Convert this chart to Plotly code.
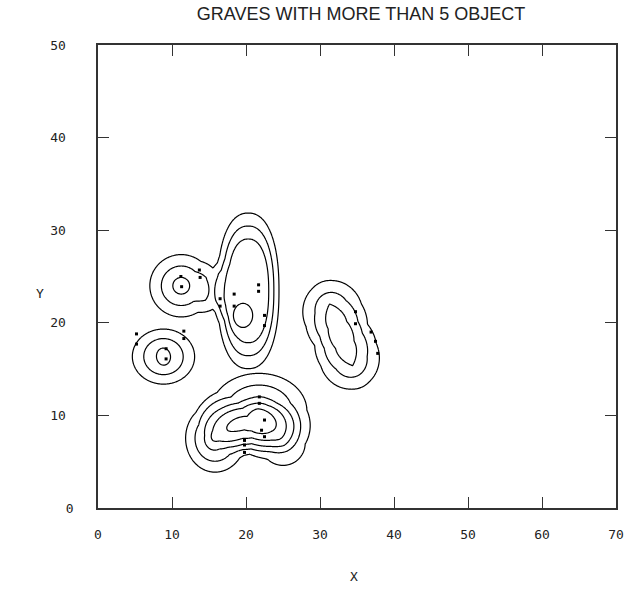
import numpy as np
import plotly.graph_objects as go

# ---- grave locations (small markers) ----
grave_x = [11.2, 11.3, 13.7, 13.8,
           16.5, 16.5, 18.4, 18.4, 21.7, 21.7, 22.5, 22.5,
           5.2, 5.2, 11.6, 11.6, 9.2, 9.2,
           34.8, 34.8, 36.9, 37.5, 37.8,
           21.8, 21.8, 22.5, 22.1, 22.5, 19.8, 19.8, 19.8]
grave_y = [25.0, 23.9, 25.7, 24.9,
           22.6, 21.8, 23.1, 21.8, 24.1, 23.4, 20.8, 19.7,
           18.8, 17.7, 19.1, 18.3, 17.2, 16.1,
           21.2, 19.9, 19.0, 18.0, 16.7,
           12.0, 11.3, 9.5, 8.4, 7.7, 7.3, 6.8, 6.0]

# ---- density hotspots: group, centre, weight, radii, flat top, norm power ----
hot_group = ["AB", "AB", "AB", "AB", "AB",
             "C", "C",
             "D", "D", "D", "D",
             "E", "E", "E", "E", "E"]
hot_x = [11.25, 15.7, 15.8, 20.3, 19.6,
         8.8, 8.9,
         31.3, 32.33, 33.37, 34.4,
         21.75, 21.4, 15.6, 17.4, 25.0]
hot_y = [24.0, 23.6, 22.4, 23.45, 20.8,
         17.0, 15.7,
         22.0, 19.8, 17.6, 15.4,
         10.5, 8.9, 7.5, 7.7, 7.0]
hot_w = [3.73, 0.55, 0.35, 3.5, 1.0,
         1.95, 1.95,
         2.15, 1.65, 1.65, 2.15,
         4.2, 2.4, 3.4, 0.8, 2.2]
hot_rx = [5.8, 3.0, 2.5, 4.85, 2.6,
          5.8, 5.8,
          5.8, 5.8, 5.8, 5.8,
          8.5, 6.0, 5.2, 6.0, 5.5]
hot_ry = [4.6, 3.8, 2.5, 9.8, 2.6,
          4.0, 4.0,
          4.8, 4.8, 4.8, 4.8,
          5.3, 3.0, 5.0, 4.4, 4.4]
hot_flat = [0.0, 0.5, 0.0, 0.5, 0.0,
            0.0, 0.0,
            0.0, 0.0, 0.0, 0.0,
            0.0, 0.0, 0.0, 0.0, 0.0]
hot_pow = [2.0, 2.0, 2.0, 2.3, 2.0,
           2.0, 2.0,
           2.0, 2.0, 2.0, 2.0,
           2.0, 2.0, 2.0, 2.0, 2.0]

contour_levels = [1, 2, 3, 4, 5]
x_ticks = [0, 10, 20, 30, 40, 50, 60, 70]
y_ticks = [0, 10, 20, 30, 40, 50]

# ---- density surface: summed within a group, upper envelope across groups ----
gx = np.linspace(0, 70, 701)
gy = np.linspace(0, 50, 501)
X, Y = np.meshgrid(gx, gy)
surfaces = {}
for g, cx, cy, w, rx, ry, fl, p in zip(hot_group, hot_x, hot_y, hot_w,
                                       hot_rx, hot_ry, hot_flat, hot_pow):
    u = (np.abs((X - cx) / rx) ** p + np.abs((Y - cy) / ry) ** p) ** (1.0 / p)
    k = np.clip((1.0 - u) / (1.0 - fl), 0.0, 1.0)
    surfaces[g] = surfaces.get(g, 0.0) + w * k
Z = np.max(np.stack(list(surfaces.values())), axis=0)

mono = "DejaVu Sans Mono"
ink = "#222222"

fig = go.Figure()
fig.add_trace(go.Contour(
    x=gx, y=gy, z=Z,
    contours=dict(start=contour_levels[0], end=contour_levels[-1], size=1,
                  coloring="lines"),
    colorscale=[[0, "black"], [1, "black"]],
    line=dict(width=1.2),
    showscale=False, hoverinfo="skip",
))
fig.add_trace(go.Scatter(
    x=grave_x, y=grave_y, mode="markers",
    marker=dict(symbol="square", size=3, color="black"),
    hoverinfo="skip", showlegend=False,
))

fig.update_layout(
    width=629, height=589,
    margin=dict(l=98, r=5, t=45, b=81),
    paper_bgcolor="white", plot_bgcolor="white",
    showlegend=False,
    title=dict(text="GRAVES WITH MORE THAN 5 OBJECT",
               font=dict(family="Liberation Sans", size=18, color=ink),
               x=0.574, xanchor="center", y=0.976, yanchor="middle"),
    annotations=[
        dict(text="Y", xref="paper", yref="paper", x=-0.124, y=0.464,
             showarrow=False, font=dict(family=mono, size=13, color=ink)),
        dict(text="X", xref="paper", yref="paper", x=0.494, y=-0.168,
             showarrow=False, font=dict(family=mono, size=13, color=ink)),
    ],
)
fig.update_xaxes(
    range=[0, 70], tickvals=x_ticks, ticktext=[str(v) for v in x_ticks],
    ticks="inside", ticklen=11, tickwidth=1.3, tickcolor="#333",
    showline=True, linecolor="#333", linewidth=1.5, mirror="ticks",
    showgrid=False, zeroline=False, ticklabelstandoff=14,
    ticklabeloverflow="allow",
    tickfont=dict(family=mono, size=13, color=ink),
)
fig.update_yaxes(
    range=[0, 50], tickvals=y_ticks,
    ticktext=[str(v) if v == 0 else str(v) + "\u00a0" for v in y_ticks],
    ticks="inside", ticklen=11, tickwidth=1.3, tickcolor="#333",
    showline=True, linecolor="#333", linewidth=1.5, mirror="ticks",
    showgrid=False, zeroline=False, ticklabelstandoff=20,
    ticklabeloverflow="allow",
    tickfont=dict(family=mono, size=13, color=ink),
)

fig.write_html("out.html")
